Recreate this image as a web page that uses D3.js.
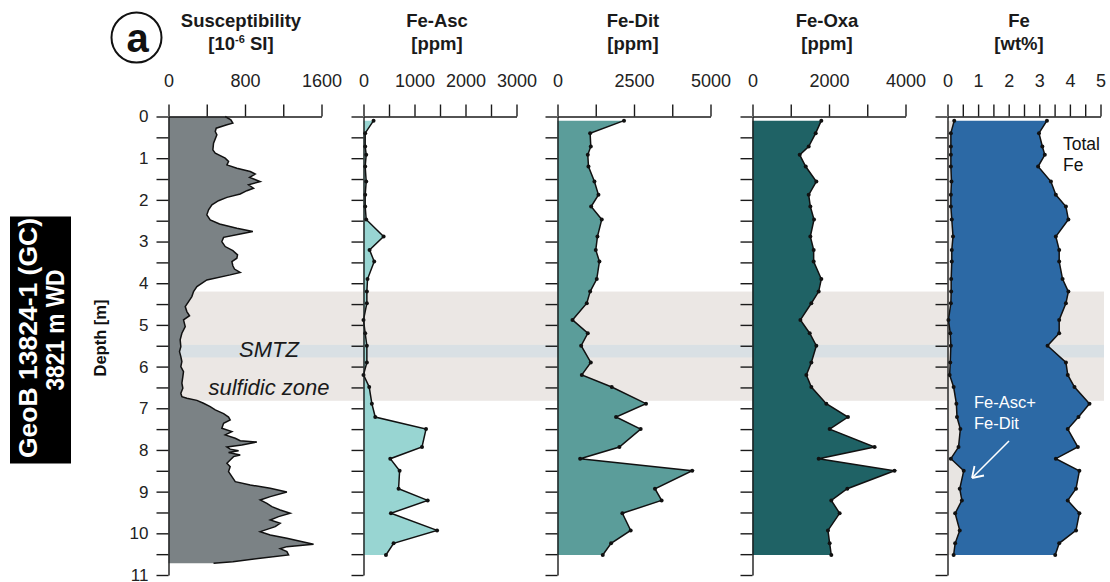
<!DOCTYPE html>
<html lang="en">
<head>
    <meta charset="UTF-8">
    <title>GeoB 13824-1 iron profiles</title>
    <script src="https://d3js.org/d3.v7.min.js"></script>
    <style>
        body { margin: 0; background: white; }
        svg { display: block; font-family: 'Liberation Sans', Arial, sans-serif; }
        .axis path, .axis line { stroke: #1a1a1a; stroke-width: 1.4px; }
        .axis text { font-size: 18px; fill: #222; font-family: 'Liberation Sans', Arial, sans-serif; }
        .depthaxis text { font-size: 17px; }
        .title { font-weight: bold; font-size: 18.5px; text-anchor: middle; fill: #1a1a1a; }
    </style>
</head>
<body>
    <svg width="1110" height="582"></svg>
    <script>
        // susceptibility log (continuous)
        const suscDepth = [0, 0.08, 0.16, 0.20, 0.28, 0.36, 0.44, 0.64, 0.80, 0.88, 1.00, 1.08, 1.16, 1.24, 1.32, 1.38, 1.46, 1.56, 1.64, 1.72, 1.78, 1.86, 1.94, 2.02, 2.12, 2.24, 2.36, 2.48, 2.58, 2.68, 2.76, 2.82, 2.90, 3.00, 3.12, 3.22, 3.32, 3.40, 3.48, 3.58, 3.66, 3.74, 3.80, 3.92, 4.08, 4.20, 4.32, 4.44, 4.56, 4.68, 4.78, 4.88, 5.04, 5.20, 5.36, 5.52, 5.64, 5.76, 5.88, 6.00, 6.12, 6.24, 6.40, 6.52, 6.64, 6.72, 6.76, 6.81, 6.88, 6.96, 7.04, 7.13, 7.21, 7.28, 7.36, 7.48, 7.56, 7.64, 7.72, 7.78, 7.81, 7.88, 7.93, 7.98, 8.02, 8.06, 8.12, 8.16, 8.24, 8.32, 8.40, 8.52, 8.64, 8.76, 8.84, 8.92, 9.01, 9.12, 9.20, 9.28, 9.36, 9.44, 9.52, 9.60, 9.68, 9.76, 9.84, 9.96, 10.04, 10.12, 10.21, 10.26, 10.32, 10.37, 10.44, 10.52, 10.60, 10.68, 10.72];
        const suscValue = [593, 652, 673, 611, 499, 489, 506, 471, 464, 489, 593, 628, 611, 715, 855, 907, 848, 959, 837, 889, 820, 750, 611, 523, 454, 419, 401, 436, 534, 715, 882, 750, 576, 558, 593, 673, 722, 715, 663, 673, 690, 750, 645, 401, 297, 262, 244, 210, 175, 192, 220, 157, 175, 140, 122, 129, 115, 129, 140, 129, 157, 150, 140, 150, 129, 140, 192, 297, 366, 436, 489, 576, 628, 645, 576, 558, 663, 593, 698, 750, 924, 767, 611, 645, 733, 628, 750, 680, 645, 611, 645, 628, 663, 698, 855, 1064, 1238, 1064, 959, 1029, 1081, 1168, 1273, 1151, 1064, 1168, 1116, 959, 1064, 1238, 1412, 1517, 1238, 1168, 1238, 1256, 959, 673, 471];

        // discrete samples
        const sampleDepth = [0.10, 0.40, 0.72, 0.92, 1.20, 1.56, 1.88, 2.16, 2.47, 2.88, 3.20, 3.48, 3.90, 4.20, 4.48, 4.88, 5.20, 5.50, 5.90, 6.20, 6.49, 6.89, 7.21, 7.50, 7.93, 8.21, 8.50, 8.93, 9.21, 9.52, 9.93, 10.24, 10.52];
        const feAsc = [197, 33, 33, 53, 33, 53, 33, 33, 53, 394, 119, 210, 79, 66, 66, 0, 33, 66, 66, 0, 112, 164, 230, 1226, 1147, 525, 708, 688, 1258, 538, 1442, 590, 440];
        const feDit = [2174, 1066, 1088, 990, 1012, 1207, 1338, 1099, 1446, 1305, 1251, 1370, 1283, 1066, 957, 490, 990, 773, 1088, 794, 1772, 2892, 1914, 2718, 2022, 740, 4402, 3185, 3402, 2120, 2392, 1751, 1479];
        const feOxa = [1799, 1652, 1469, 1234, 1391, 1669, 1469, 1512, 1608, 1512, 1599, 1599, 1799, 1730, 1538, 1252, 1495, 1669, 1538, 1408, 1538, 1930, 2495, 2017, 3191, 1730, 3713, 2478, 2060, 2278, 1973, 2017, 2060];
        const feTotal = [3.25, 2.99, 3.10, 3.18, 2.96, 3.38, 3.54, 3.87, 3.95, 3.54, 3.65, 3.65, 3.76, 3.95, 3.87, 3.65, 3.65, 3.27, 3.87, 3.93, 4.15, 4.64, 4.28, 3.93, 4.26, 3.54, 4.31, 4.20, 3.93, 4.31, 4.20, 3.65, 3.52];
        const feAscDit = [0.22, 0.11, 0.11, 0.11, 0.11, 0.13, 0.11, 0.11, 0.14, 0.18, 0.14, 0.14, 0.12, 0.12, 0.11, 0.03, 0.09, 0.11, 0.09, 0.07, 0.20, 0.29, 0.31, 0.42, 0.36, 0.11, 0.53, 0.40, 0.47, 0.25, 0.40, 0.25, 0.20];

        // zones [top, bottom] in m
        const sulfidicZone = [4.2, 6.82];
        const smtz = [5.48, 5.78];

        const panelTitles = ["Susceptibility", "Fe-Asc", "Fe-Dit", "Fe-Oxa", "Fe"];
        const panelUnits = ["[10|-6| SI]", "[ppm]", "[ppm]", "[ppm]", "[wt%]"];
        const panelMax = [1600, 3000, 5000, 4000, 5];
        const panelStep = [400, 500, 1250, 1000, 0.5];
        const panelLabels = [[0, 800, 1600], [0, 1000, 2000, 3000], [0, 2500, 5000], [0, 2000, 4000], [0, 1, 2, 3, 4, 5]];
        const panelColors = ["#7b8285", "#98d5d2", "#5b9d9a", "#1f6265", "#2c69a5"];

        const svg = d3.select("svg");
        const panelLeft = [168.5, 363.5, 557.5, 752.5, 947.5];
        const panelWidth = 153;
        const titleX = [241, 437, 633, 827, 1019];

        const y = d3.scaleLinear().domain([0, 11]).range([116.5, 575]);
        const xScales = panelMax.map((m, i) => d3.scaleLinear().domain([0, m]).range([panelLeft[i], panelLeft[i] + panelWidth]));

        // background zones
        svg.append("rect")
            .attr("x", panelLeft[0]).attr("width", 1104 - panelLeft[0])
            .attr("y", y(sulfidicZone[0])).attr("height", y(sulfidicZone[1]) - y(sulfidicZone[0]))
            .attr("fill", "#ebe7e4");
        svg.append("rect")
            .attr("x", panelLeft[0]).attr("width", 1104 - panelLeft[0])
            .attr("y", y(smtz[0])).attr("height", y(smtz[1]) - y(smtz[0]))
            .attr("fill", "#d9e0e4");

        // susceptibility
        const susc = suscDepth.map((d, i) => ({ depth: d, v: suscValue[i] }));
        const xs = xScales[0];
        svg.append("path").datum(susc)
            .attr("fill", panelColors[0])
            .attr("d", d3.area().y(d => y(d.depth)).x0(xs(0)).x1(d => xs(d.v)));
        svg.append("path").datum(susc)
            .attr("fill", "none").attr("stroke", "#111").attr("stroke-width", 1.5)
            .attr("d", d3.line().y(d => y(d.depth)).x(d => xs(d.v)));

        // simple sample profiles
        function drawProfile(values, x, color) {
            const data = sampleDepth.map((d, i) => ({ depth: d, v: values[i] }));
            svg.append("path").datum(data)
                .attr("fill", color)
                .attr("d", d3.area().y(d => y(d.depth)).x0(x(0)).x1(d => x(d.v)));
            drawLine(data, x);
        }
        function drawLine(data, x) {
            svg.append("path").datum(data)
                .attr("fill", "none").attr("stroke", "#111").attr("stroke-width", 1.5)
                .attr("d", d3.line().y(d => y(d.depth)).x(d => x(d.v)));
            svg.append("g").selectAll("circle").data(data).join("circle")
                .attr("cx", d => x(d.v)).attr("cy", d => y(d.depth)).attr("r", 2)
                .attr("fill", "#111");
        }
        drawProfile(feAsc, xScales[1], panelColors[1]);
        drawProfile(feDit, xScales[2], panelColors[2]);
        drawProfile(feOxa, xScales[3], panelColors[3]);

        // total Fe with Fe-Asc+Fe-Dit
        const xf = xScales[4];
        const fe = sampleDepth.map((d, i) => ({ depth: d, lo: feAscDit[i], hi: feTotal[i] }));
        svg.append("path").datum(fe)
            .attr("fill", "#e8e5e2")
            .attr("d", d3.area().y(d => y(d.depth)).x0(xf(0)).x1(d => xf(d.lo)));
        svg.append("path").datum(fe)
            .attr("fill", panelColors[4])
            .attr("d", d3.area().y(d => y(d.depth)).x0(d => xf(d.lo)).x1(d => xf(d.hi)));
        drawLine(fe.map(d => ({ depth: d.depth, v: d.lo })), xf);
        drawLine(fe.map(d => ({ depth: d.depth, v: d.hi })), xf);

        // axes
        panelMax.forEach((m, i) => {
            const x = xScales[i];
            const ticks = d3.range(0, m + panelStep[i] / 2, panelStep[i]);
            svg.append("g").attr("class", "axis")
                .attr("transform", `translate(0,${y(0)})`)
                .call(d3.axisTop(x).tickValues(ticks).tickSize(12).tickSizeOuter(0).tickPadding(18)
                    .tickFormat(v => panelLabels[i].some(l => Math.abs(l - v) < 1e-9) ? v : ""));

            svg.append("g").attr("class", "axis depthaxis")
                .attr("transform", `translate(${panelLeft[i]},0)`)
                .call(d3.axisLeft(y).tickValues(d3.range(0, 11.01, 0.5)).tickSize(12).tickSizeOuter(0).tickPadding(8)
                    .tickFormat(v => (i === 0 && Number.isInteger(v)) ? v : ""));

            // titles
            svg.append("text").attr("class", "title").attr("x", titleX[i]).attr("y", 27).text(panelTitles[i]);
            const unit = svg.append("text").attr("class", "title").attr("x", titleX[i]).attr("y", 49.5);
            const parts = panelUnits[i].split("|");
            if (parts.length === 3) {
                unit.append("tspan").text(parts[0]);
                unit.append("tspan").attr("font-size", "11px").attr("dy", -7).text(parts[1]);
                unit.append("tspan").attr("dy", 7).text(parts[2]);
            } else {
                unit.text(parts[0]);
            }
        });

        // panel letter
        svg.append("circle").attr("cx", 136.5).attr("cy", 37.5).attr("r", 25)
            .attr("fill", "none").attr("stroke", "#111").attr("stroke-width", 2);
        svg.append("text").attr("x", 137.5).attr("y", 51.5).attr("text-anchor", "middle")
            .attr("font-size", "40px").attr("font-weight", "bold").attr("fill", "#111").text("a");

        // depth label
        svg.append("text").attr("transform", "translate(106,338) rotate(-90)")
            .attr("text-anchor", "middle").attr("font-size", "16.5px").attr("font-weight", "bold")
            .attr("fill", "#111").text("Depth [m]");

        // core label box
        svg.append("rect").attr("x", 10).attr("y", 216.5).attr("width", 61).attr("height", 247).attr("fill", "#000");
        svg.append("text").attr("transform", "translate(37,338) rotate(-90)")
            .attr("text-anchor", "middle").attr("font-size", "26px").attr("font-weight", "bold")
            .attr("fill", "white").attr("textLength", 240).attr("lengthAdjust", "spacingAndGlyphs")
            .text("GeoB 13824-1 (GC)");
        svg.append("text").attr("transform", "translate(64,330) rotate(-90)")
            .attr("text-anchor", "middle").attr("font-size", "26px").attr("font-weight", "bold")
            .attr("fill", "white").attr("textLength", 121).attr("lengthAdjust", "spacingAndGlyphs")
            .text("3821 m WD");

        // zone labels
        svg.append("text").attr("x", 269).attr("y", 357).attr("text-anchor", "middle")
            .attr("font-size", "22px").attr("font-style", "italic").attr("fill", "#1a1a1a").text("SMTZ");
        svg.append("text").attr("x", 269).attr("y", 395).attr("text-anchor", "middle")
            .attr("font-size", "22px").attr("font-style", "italic").attr("fill", "#1a1a1a").text("sulfidic zone");

        // Fe annotations
        svg.append("text").attr("x", 1063).attr("y", 150).attr("font-size", "17.5px").attr("fill", "#111").text("Total");
        svg.append("text").attr("x", 1063).attr("y", 171).attr("font-size", "17.5px").attr("fill", "#111").text("Fe");
        svg.append("text").attr("x", 974).attr("y", 408).attr("font-size", "16.5px").attr("fill", "white").text("Fe-Asc+");
        svg.append("text").attr("x", 974).attr("y", 429).attr("font-size", "16.5px").attr("fill", "white").text("Fe-Dit");
        svg.append("line").attr("x1", 1009).attr("y1", 441).attr("x2", 973).attr("y2", 477)
            .attr("stroke", "white").attr("stroke-width", 1.6);
        svg.append("path").attr("d", "M972,478 L974.5,466 M972,478 L984,475.5")
            .attr("stroke", "white").attr("stroke-width", 1.8).attr("fill", "none");
    </script>
</body>
</html>
